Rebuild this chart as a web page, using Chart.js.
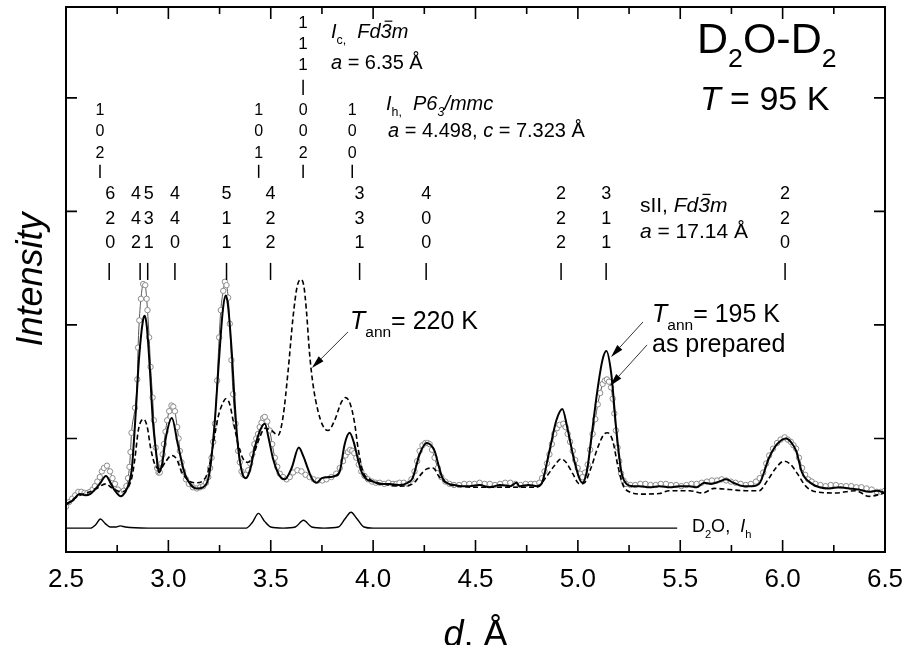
<!DOCTYPE html>
<html>
<head>
<meta charset="utf-8">
<script src="https://cdn.jsdelivr.net/npm/chart.js@4.4.1/dist/chart.umd.min.js"></script>
<style>
  html, body { margin: 0; padding: 0; background: #fff; }
  #wrap { width: 905px; height: 645px; }
</style>
</head>
<body>
<div id="wrap"><canvas id="c" width="905" height="645"></canvas></div>
<script>
// ---- data (d in Angstrom, intensity in tick units) ----
const xTicks = [2.5, 3.0, 3.5, 4.0, 4.5, 5.0, 5.5, 6.0, 6.5];

// T_ann = 195 K (solid)
const d195 = [2.500,2.530,2.568,2.595,2.617,2.641,2.665,2.695,2.720,2.739,2.768,2.790,2.810,2.822,2.841,2.856,2.876,2.885,2.895,2.910,
  2.924,2.944,2.954,2.970,2.988,3.017,3.046,3.080,3.110,3.139,3.168,3.202,3.227,3.246,3.266,3.280,3.290,3.310,3.324,3.339,
  3.360,3.378,3.400,3.422,3.450,3.471,3.490,3.510,3.540,3.568,3.602,3.637,3.660,3.680,3.700,3.724,3.750,3.788,3.815,3.837,
  3.861,3.885,3.905,3.924,3.945,3.968,4.000,4.032,4.080,4.129,4.170,4.193,4.227,4.261,4.300,4.320,4.339,4.370,4.398,4.430,
  4.471,4.520,4.568,4.620,4.670,4.700,4.715,4.760,4.800,4.822,4.861,4.895,4.924,4.949,4.983,5.022,5.045,5.066,5.095,5.120,
  5.139,5.163,5.188,5.212,5.237,5.270,5.300,5.350,5.398,5.450,5.495,5.544,5.580,5.617,5.650,5.690,5.724,5.760,5.812,5.850,
  5.885,5.934,5.973,6.017,6.040,6.066,6.095,6.144,6.180,6.227,6.280,6.324,6.370,6.422,6.460,6.500];
const i195 = [0.42,0.45,0.51,0.50,0.51,0.55,0.60,0.67,0.60,0.54,0.49,0.53,0.62,0.74,1.24,1.69,2.04,2.08,1.98,1.60,
  1.16,0.82,0.70,0.78,1.01,1.18,0.95,0.69,0.59,0.56,0.57,0.71,1.16,1.66,2.13,2.26,2.19,1.75,1.31,0.95,
  0.70,0.65,0.73,0.92,1.08,1.13,1.00,0.83,0.68,0.64,0.74,0.92,0.84,0.74,0.65,0.61,0.65,0.66,0.67,0.71,
  0.95,1.05,0.97,0.83,0.70,0.64,0.62,0.60,0.60,0.59,0.61,0.65,0.86,0.96,0.89,0.76,0.65,0.60,0.59,0.58,
  0.58,0.59,0.57,0.59,0.58,0.61,0.58,0.59,0.58,0.60,0.89,1.16,1.26,1.09,0.80,0.61,0.72,1.01,1.42,1.69,
  1.77,1.57,1.07,0.71,0.60,0.58,0.58,0.57,0.58,0.57,0.58,0.58,0.57,0.61,0.60,0.62,0.64,0.61,0.58,0.58,
  0.60,0.83,0.95,1.00,0.97,0.89,0.70,0.60,0.57,0.56,0.57,0.56,0.55,0.53,0.54,0.52];

// as prepared (open circles), [d, intensity]
const prepPoints = [
  [2.500,0.40],[2.515,0.44],[2.530,0.47],[2.545,0.50],[2.560,0.53],[2.575,0.53],[2.590,0.52],[2.604,0.52],[2.617,0.53],[2.630,0.55],
  [2.641,0.58],[2.653,0.62],[2.665,0.66],[2.675,0.71],[2.685,0.74],[2.700,0.76],[2.715,0.71],[2.727,0.65],[2.739,0.60],[2.753,0.55],
  [2.768,0.52],[2.782,0.54],[2.795,0.58],[2.803,0.65],[2.810,0.75],[2.815,0.88],[2.820,1.05],[2.837,1.27],[2.848,1.52],[2.852,1.80],
  [2.858,2.04],[2.866,2.23],[2.877,2.36],[2.887,2.35],[2.894,2.23],[2.898,2.13],[2.906,1.89],[2.913,1.63],[2.923,1.36],[2.929,1.16],
  [2.938,0.92],[2.945,0.74],[2.952,0.70],[2.958,0.70],[2.966,0.78],[2.972,0.86],[2.978,0.95],[2.986,1.06],[2.994,1.16],[3.004,1.24],
  [3.015,1.29],[3.024,1.28],[3.032,1.24],[3.043,1.10],[3.050,1.00],[3.056,0.89],[3.064,0.79],[3.072,0.71],[3.086,0.64],[3.100,0.60],
  [3.120,0.57],[3.139,0.56],[3.155,0.57],[3.170,0.58],[3.184,0.61],[3.195,0.66],[3.204,0.74],[3.211,0.83],[3.219,0.97],[3.227,1.13],
  [3.238,1.51],[3.248,1.89],[3.256,2.13],[3.268,2.30],[3.276,2.38],[3.284,2.35],[3.292,2.24],[3.300,2.01],[3.308,1.69],[3.316,1.39],
  [3.328,1.13],[3.341,0.89],[3.349,0.79],[3.357,0.71],[3.367,0.68],[3.378,0.68],[3.390,0.72],[3.400,0.78],[3.410,0.86],[3.420,0.95],
  [3.429,1.00],[3.438,1.04],[3.446,1.10],[3.455,1.14],[3.463,1.18],[3.471,1.19],[3.483,1.15],[3.495,1.07],[3.507,0.95],[3.520,0.83],
  [3.532,0.75],[3.544,0.69],[3.560,0.66],[3.577,0.64],[3.593,0.66],[3.609,0.70],[3.630,0.72],[3.650,0.71],[3.670,0.68],[3.690,0.66],
  [3.710,0.64],[3.731,0.63],[3.752,0.63],[3.772,0.64],[3.796,0.66],[3.820,0.69],[3.837,0.74],[3.853,0.80],[3.865,0.85],[3.877,0.88],
  [3.888,0.90],[3.898,0.89],[3.908,0.87],[3.918,0.83],[3.930,0.77],[3.942,0.71],[3.958,0.67],[3.975,0.64],[3.995,0.62],[4.013,0.61],
  [4.032,0.61],[4.054,0.60],[4.075,0.61],[4.097,0.60],[4.113,0.60],[4.129,0.61],[4.150,0.61],[4.170,0.60],[4.187,0.64],[4.202,0.71],
  [4.215,0.80],[4.227,0.89],[4.241,0.94],[4.255,0.96],[4.266,0.96],[4.276,0.95],[4.288,0.90],[4.300,0.83],[4.316,0.74],[4.333,0.66],
  [4.353,0.62],[4.373,0.60],[4.395,0.59],[4.420,0.59],[4.445,0.60],[4.470,0.60],[4.495,0.60],[4.520,0.61],[4.545,0.60],[4.570,0.60],
  [4.595,0.59],[4.620,0.60],[4.645,0.61],[4.670,0.61],[4.695,0.60],[4.720,0.59],[4.745,0.60],[4.770,0.60],[4.790,0.60],[4.812,0.61],
  [4.825,0.65],[4.837,0.71],[4.849,0.78],[4.861,0.86],[4.873,0.95],[4.885,1.04],[4.898,1.09],[4.910,1.12],[4.929,1.13],[4.940,1.10],
  [4.950,1.04],[4.962,0.97],[4.975,0.89],[4.987,0.81],[4.999,0.74],[5.011,0.69],[5.023,0.66],[5.035,0.70],[5.048,0.77],[5.060,0.90],
  [5.072,1.04],[5.085,1.17],[5.097,1.30],[5.109,1.40],[5.121,1.48],[5.132,1.51],[5.142,1.52],[5.152,1.50],[5.162,1.45],[5.170,1.35],
  [5.178,1.22],[5.186,1.07],[5.194,0.92],[5.202,0.80],[5.211,0.69],[5.223,0.63],[5.235,0.60],[5.257,0.59],[5.280,0.59],[5.305,0.60],
  [5.330,0.60],[5.355,0.59],[5.380,0.59],[5.405,0.60],[5.430,0.60],[5.455,0.59],[5.480,0.59],[5.505,0.58],[5.530,0.59],[5.555,0.60],
  [5.580,0.60],[5.605,0.61],[5.630,0.62],[5.655,0.63],[5.680,0.63],[5.702,0.64],[5.724,0.63],[5.747,0.62],[5.770,0.61],[5.795,0.60],
  [5.820,0.59],[5.845,0.60],[5.870,0.62],[5.888,0.65],[5.905,0.70],[5.920,0.78],[5.934,0.85],[5.953,0.91],[5.973,0.96],[5.990,0.99],
  [6.010,1.01],[6.025,0.99],[6.040,0.97],[6.053,0.94],[6.066,0.91],[6.080,0.83],[6.095,0.74],[6.110,0.68],[6.125,0.64],[6.142,0.62],
  [6.160,0.60],[6.185,0.59],[6.210,0.58],[6.235,0.59],[6.260,0.59],[6.285,0.58],[6.310,0.58],[6.335,0.58],[6.360,0.57],[6.385,0.57],
  [6.410,0.56],[6.435,0.55],[6.460,0.53],[6.480,0.53],[6.500,0.54]
];

// T_ann = 220 K (dashed)
const d220 = [2.500,2.540,2.568,2.617,2.650,2.695,2.720,2.739,2.768,2.800,2.822,2.837,2.853,2.869,2.880,2.897,2.913,2.934,2.959,2.988,
  3.015,3.040,3.064,3.097,3.137,3.170,3.194,3.219,3.243,3.268,3.280,3.300,3.316,3.341,3.365,3.389,3.414,3.446,3.471,3.503,
  3.536,3.560,3.585,3.609,3.628,3.645,3.661,3.674,3.690,3.706,3.731,3.755,3.780,3.812,3.845,3.866,3.889,3.910,3.926,3.950,
  3.983,4.048,4.129,4.194,4.227,4.260,4.292,4.324,4.365,4.420,4.500,4.600,4.700,4.800,4.845,4.885,4.918,4.942,4.975,5.007,
  5.032,5.064,5.097,5.129,5.145,5.170,5.194,5.218,5.251,5.316,5.398,5.446,5.544,5.609,5.666,5.739,5.820,5.885,5.926,5.967,
  6.007,6.040,6.072,6.113,6.162,6.260,6.357,6.422,6.479,6.500];
const i220 = [0.42,0.47,0.50,0.53,0.56,0.60,0.57,0.55,0.53,0.56,0.66,0.83,1.07,1.16,1.17,1.10,0.92,0.77,0.73,0.80,
  0.85,0.82,0.71,0.63,0.61,0.63,0.71,0.95,1.19,1.32,1.35,1.30,1.16,0.95,0.82,0.79,0.85,1.01,1.09,1.07,
  1.03,1.19,1.60,2.07,2.33,2.40,2.35,2.13,1.74,1.48,1.24,1.11,1.07,1.16,1.32,1.36,1.30,1.13,0.92,0.71,
  0.64,0.60,0.58,0.60,0.67,0.73,0.74,0.66,0.60,0.58,0.57,0.57,0.57,0.57,0.66,0.76,0.82,0.79,0.69,0.60,
  0.61,0.74,0.92,1.04,1.05,0.98,0.77,0.60,0.53,0.51,0.515,0.54,0.54,0.52,0.56,0.55,0.54,0.54,0.63,0.74,
  0.80,0.77,0.69,0.58,0.53,0.52,0.54,0.49,0.51,0.52];

// D2O, Ih reference pattern
const dRef = [2.500,2.620,2.645,2.668,2.692,2.715,2.745,2.765,2.790,2.900,3.200,3.380,3.410,3.440,3.470,3.500,3.560,3.620,3.660,3.700,
  3.760,3.830,3.862,3.892,3.922,3.955,4.000,4.500,5.000,5.485];
const iRef = [0.21,0.21,0.24,0.29,0.25,0.22,0.22,0.23,0.22,0.21,0.21,0.21,0.26,0.34,0.27,0.22,0.21,0.22,0.28,0.22,
  0.21,0.22,0.29,0.35,0.29,0.22,0.21,0.21,0.21,0.21];

// reflection positions and indices
const sIIpos = [2.711, 2.862, 2.899, 3.032, 3.284, 3.499, 3.934, 4.259, 4.918, 5.138, 6.012];
const sIIhkl = ['620', '442', '531', '440', '511', '422', '331', '400', '222', '311', '220'];
const ihPos = [2.666, 3.441, 3.658, 3.898];
const ihHkl = ['102', '101', '002', '100'];
const icPos = [3.658];
const icHkl = ['111'];

const pts = (xs, ys) => xs.map((v, i) => ({ x: v, y: ys[i] }));
const FONT = '"Liberation Sans", Arial, Helvetica, sans-serif';

// text made of pieces: {t, it: italic, sub: subscript, bar: overbar}
function rich(ctx, x, y, parts, size) {
  let cx = x;
  ctx.textAlign = 'left';
  ctx.textBaseline = 'alphabetic';
  for (const p of parts) {
    const fs = p.sub ? size * 0.62 : size;
    ctx.font = (p.it ? 'italic ' : '') + fs + 'px ' + FONT;
    const dy = p.sub ? size * 0.32 : 0;
    ctx.fillText(p.t, cx, y + dy);
    const w = ctx.measureText(p.t).width;
    if (p.bar) ctx.fillRect(cx + fs * 0.2, y - fs * 0.86, w * 0.7, Math.max(1, fs * 0.06));
    cx += w;
  }
}

function arrow(ctx, x0, y0, x1, y1) {
  const ang = Math.atan2(y1 - y0, x1 - x0), L = 13, W = 3.4;
  const bx = x1 - L * Math.cos(ang), by = y1 - L * Math.sin(ang);
  ctx.strokeStyle = '#333';
  ctx.lineWidth = 1;
  ctx.beginPath(); ctx.moveTo(x0, y0); ctx.lineTo(bx, by); ctx.stroke();
  ctx.fillStyle = '#000';
  ctx.beginPath();
  ctx.moveTo(x1, y1);
  ctx.lineTo(bx + W * Math.sin(ang), by - W * Math.cos(ang));
  ctx.lineTo(bx - W * Math.sin(ang), by + W * Math.cos(ang));
  ctx.closePath(); ctx.fill();
}

const decor = {
  id: 'decor',
  afterDraw(chart) {
    const { ctx, chartArea: a, scales: { x, y } } = chart;
    const X = v => x.getPixelForValue(v), Y = v => y.getPixelForValue(v);
    ctx.save();
    ctx.strokeStyle = '#000';
    ctx.fillStyle = '#000';

    // frame
    ctx.lineWidth = 2;
    ctx.strokeRect(a.left, a.top, a.right - a.left, a.bottom - a.top);

    // inward ticks, major and minor on x, major on y
    ctx.lineWidth = 1.6;
    ctx.beginPath();
    for (let k = 0; k <= 16; k++) {
      const px = X(2.5 + k * 0.25), len = k % 2 ? 7 : 12;
      ctx.moveTo(px, a.bottom); ctx.lineTo(px, a.bottom - len);
      ctx.moveTo(px, a.top); ctx.lineTo(px, a.top + len);
    }
    for (let v = 1; v <= 4; v++) {
      ctx.moveTo(a.left, Y(v)); ctx.lineTo(a.left + 11, Y(v));
      ctx.moveTo(a.right, Y(v)); ctx.lineTo(a.right - 11, Y(v));
    }
    ctx.stroke();

    // reflection columns
    function column(pos, hkl, base, step, size, m0, m1, nudge) {
      ctx.font = size + 'px ' + FONT;
      ctx.textAlign = 'center';
      ctx.textBaseline = 'alphabetic';
      ctx.lineWidth = 1.5;
      pos.forEach((d, i) => {
        const px = X(d), lx = px + (nudge[i] || 0);
        for (let r = 0; r < 3; r++) ctx.fillText(hkl[i][r], lx, Y(base) + r * step);
        ctx.beginPath(); ctx.moveTo(px, Y(m0)); ctx.lineTo(px, Y(m1)); ctx.stroke();
      });
    }
    column(sIIpos, sIIhkl, 3.106, 24.5, 18, 2.546, 2.396, [1, -4, 1]);
    column(ihPos, ihHkl, 3.850, 21.5, 16, 3.410, 3.295, []);
    column(icPos, icHkl, 4.617, 21, 17, 4.159, 4.026, []);

    // phase labels
    rich(ctx, X(3.794), Y(4.529), [{ t: 'I', it: 1 }, { t: 'c,', sub: 1 }, { t: '  ' },
      { t: 'Fd', it: 1 }, { t: '3', it: 1, bar: 1 }, { t: 'm', it: 1 }], 20);
    rich(ctx, X(3.794), Y(4.256), [{ t: 'a', it: 1 }, { t: ' = 6.35 Å' }], 20);
    rich(ctx, X(4.063), Y(3.894), [{ t: 'I', it: 1 }, { t: 'h,', sub: 1 }, { t: '  ' },
      { t: 'P6', it: 1 }, { t: '3', it: 1, sub: 1 }, { t: '/mmc', it: 1 }], 20);
    rich(ctx, X(4.073), Y(3.656), [{ t: 'a', it: 1 }, { t: ' = 4.498, ' }, { t: 'c', it: 1 }, { t: ' = 7.323 Å' }], 20);
    rich(ctx, X(5.303), Y(2.996), [{ t: 'sII, ' }, { t: 'Fd', it: 1 }, { t: '3', it: 1, bar: 1 }, { t: 'm', it: 1 }], 21);
    rich(ctx, X(5.303), Y(2.767), [{ t: 'a', it: 1 }, { t: ' = 17.14 Å' }], 21);

    rich(ctx, X(5.582), Y(4.396), [{ t: 'D' }, { t: '2', sub: 1 }, { t: 'O-D' }, { t: '2', sub: 1 }], 43);
    rich(ctx, X(5.596), Y(3.894), [{ t: 'T', it: 1 }, { t: ' = 95 K' }], 34);

    rich(ctx, X(3.887), Y(1.965), [{ t: 'T', it: 1 }, { t: 'ann', sub: 1 }, { t: '= 220 K' }], 25);
    rich(ctx, X(5.362), Y(2.026), [{ t: 'T', it: 1 }, { t: 'ann', sub: 1 }, { t: '= 195 K' }], 25);
    rich(ctx, X(5.362), Y(1.762), [{ t: 'as prepared' }], 25);
    rich(ctx, X(5.557), Y(0.176), [{ t: 'D' }, { t: '2', sub: 1 }, { t: 'O,  ' }, { t: 'I', it: 1 }, { t: 'h', sub: 1 }], 18);

    arrow(ctx, X(3.877), Y(1.938), X(3.701), Y(1.621));
    arrow(ctx, X(5.318), Y(2.026), X(5.162), Y(1.718));
    arrow(ctx, X(5.338), Y(1.824), X(5.157), Y(1.463));

    // x axis title
    ctx.fillStyle = '#000';
    rich(ctx, (a.left + a.right) / 2 - 32, 646, [{ t: 'd', it: 1 }, { t: ', Å' }], 36);
    ctx.restore();
  }
};

Chart.defaults.font.family = FONT;
Chart.defaults.color = '#000';

new Chart(document.getElementById('c'), {
  type: 'line',
  data: {
    datasets: [
      {
        label: 'Tann = 195 K', data: pts(d195, i195),
        borderColor: '#000', borderWidth: 2, pointRadius: 0,
        cubicInterpolationMode: 'monotone'
      },
      {
        label: 'Tann = 220 K', data: pts(d220, i220),
        borderColor: '#000', borderWidth: 1.6, borderDash: [5, 3], pointRadius: 0,
        cubicInterpolationMode: 'monotone'
      },
      {
        label: 'as prepared', data: prepPoints.map(p => ({ x: p[0], y: p[1] })),
        borderColor: '#555', borderWidth: 1,
        pointRadius: 2.7, pointBorderWidth: 1, pointBorderColor: '#8c8c8c', pointBackgroundColor: '#fff',
        cubicInterpolationMode: 'monotone'
      },
      {
        label: 'D2O, Ih', data: pts(dRef, iRef),
        borderColor: '#000', borderWidth: 1.4, pointRadius: 0,
        cubicInterpolationMode: 'monotone'
      }
    ]
  },
  options: {
    responsive: false,
    animation: false,
    events: [],
    layout: { padding: { top: 7, right: 20, bottom: 0, left: 0 } },
    plugins: { legend: { display: false }, tooltip: { enabled: false } },
    scales: {
      x: {
        type: 'linear', min: xTicks[0], max: xTicks[xTicks.length - 1],
        afterBuildTicks: s => { s.ticks = xTicks.map(v => ({ value: v })); },
        ticks: { callback: v => v.toFixed(1), font: { size: 26 }, padding: 12, maxRotation: 0, autoSkip: false },
        grid: { display: false, drawTicks: false },
        border: { display: false },
        afterFit: s => { s.height = 93; s.paddingLeft = 0; s.paddingRight = 0; }
      },
      y: {
        min: 0, max: 4.8,
        ticks: { display: false },
        grid: { display: false, drawTicks: false },
        border: { display: false },
        title: { display: true, text: 'Intensity', font: { size: 36, style: 'italic' }, padding: { top: 10, bottom: 0 } },
        afterFit: s => { s.width = 66; }
      }
    }
  },
  plugins: [decor]
});
</script>
</body>
</html>
